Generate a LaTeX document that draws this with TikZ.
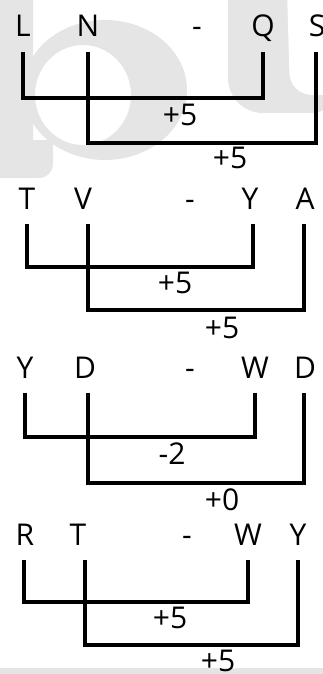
\documentclass[tikz,border=0pt]{standalone}
\usepackage{fontspec}
\setmainfont{Open Sans}
\begin{document}
\begin{tikzpicture}[x=1pt,y=-1pt,
  lt/.style={font=\fontsize{30}{36}\selectfont, text height=22pt, text depth=0pt,
             inner xsep=0pt, inner ysep=14.5pt, anchor=base},
  lab/.style={font=\fontsize{30}{36}\selectfont, inner sep=0pt, anchor=base},
  br/.style={line width=3.6pt, line join=miter, line cap=butt},
  wm/.style={fill=black!10, draw=none}]
\useasboundingbox (0,0) rectangle (323,674);
\clip (0,0) rectangle (323,674);
% faint watermark
\fill[wm] (-10,-10) -- (33,-10) -- (33,140) -- (53,140) [rounded corners=14pt] -- (53,178) [sharp corners] -- (-10,178) -- cycle;
\fill[wm, even odd rule] (105,90) ellipse [x radius=82, y radius=70]
      (83,95) ellipse [x radius=48, y radius=50];
\fill[wm] (228,-10) [rounded corners=35pt] -- (228,113) -- (345,113) [sharp corners] -- (345,-10) -- cycle;
\fill[white] (287,-10) [rounded corners=22pt] -- (290,95) -- (345,95) [sharp corners] -- (345,-10) -- cycle;
\fill[wm] (0,668) rectangle (323,680);

% ---------- row 1 ----------
\node[lt] (r1L) at (23,37) {L};
\node[lt] (r1N) at (88,37) {N};
\node[lt] (r1d) at (197,37) {-};
\node[lt] (r1Q) at (263,37) {Q};
\node[lt] (r1S) at (317,37) {S};
\coordinate (r1a) at (0,98);
\coordinate (r1b) at (0,143);
\coordinate (r1Sx) at ([xshift=-1pt]r1S.south);
\draw[br] (r1L.south) -- (r1L.south |- r1a) -- (r1Q.south |- r1a) -- (r1Q.south);
\draw[br] (r1N.south) -- (r1N.south |- r1b) -- (r1Sx |- r1b) -- (r1Sx);
\node[lab] (r1l1) at (180,125) {+5};
\node[lab] (r1l2) at (230,168) {+5};

% ---------- row 2 ----------
\node[lt] (r2T) at (27,209) {T};
\node[lt] (r2V) at (83,209) {V};
\node[lt] (r2d) at (190,209) {-};
\node[lt] (r2Y) at (250,209) {Y};
\node[lt] (r2A) at (305,209) {A};
\coordinate (r2a) at (0,267);
\coordinate (r2b) at (0,310);
\coordinate (r2Vx) at ([xshift=5pt]r2V.south);
\coordinate (r2Yx) at ([xshift=3pt]r2Y.south);
\coordinate (r2Ax) at ([xshift=-1pt]r2A.south);
\draw[br] (r2T.south) -- (r2T.south |- r2a) -- (r2Yx |- r2a) -- (r2Yx);
\draw[br] (r2Vx) -- (r2Vx |- r2b) -- (r2Ax |- r2b) -- (r2Ax);
\node[lab] (r2l1) at (175,293) {+5};
\node[lab] (r2l2) at (222,338) {+5};

% ---------- row 3 ----------
\node[lt] (r3Y) at (25,378) {Y};
\node[lt] (r3D) at (85,378) {D};
\node[lt] (r3d) at (190,378) {-};
\node[lt] (r3W) at (255,378) {W};
\node[lt] (r3E) at (305,378) {D};
\coordinate (r3a) at (0,437);
\coordinate (r3b) at (0,483);
\coordinate (r3Dx) at ([xshift=3pt]r3D.south);
\coordinate (r3Ex) at ([xshift=-1pt]r3E.south);
\draw[br] (r3Y.south) -- (r3Y.south |- r3a) -- (r3W.south |- r3a) -- (r3W.south);
\draw[br] (r3Dx) -- (r3Dx |- r3b) -- (r3Ex |- r3b) -- (r3Ex);
\node[lab] (r3l1) at (172,464) {-2};
\node[lab] (r3l2) at (222,510) {+0};

% ---------- row 4 ----------
\node[lt] (r4R) at (25,545) {R};
\node[lt] (r4T) at (78,545) {T};
\node[lt] (r4d) at (187,545) {-};
\node[lt] (r4W) at (248,545) {W};
\node[lt] (r4Y) at (298,545) {Y};
\coordinate (r4a) at (0,602);
\coordinate (r4b) at (0,645);
\coordinate (r4Rx) at ([xshift=-1pt]r4R.south);
\coordinate (r4Tx) at ([xshift=7pt]r4T.south);
\draw[br] (r4Rx) -- (r4Rx |- r4a) -- (r4W.south |- r4a) -- (r4W.south);
\draw[br] (r4Tx) -- (r4Tx |- r4b) -- (r4Y.south |- r4b) -- (r4Y.south);
\node[lab] (r4l1) at (170,628) {+5};
\node[lab] (r4l2) at (218,671.5) {+5};
\end{tikzpicture}
\end{document}
